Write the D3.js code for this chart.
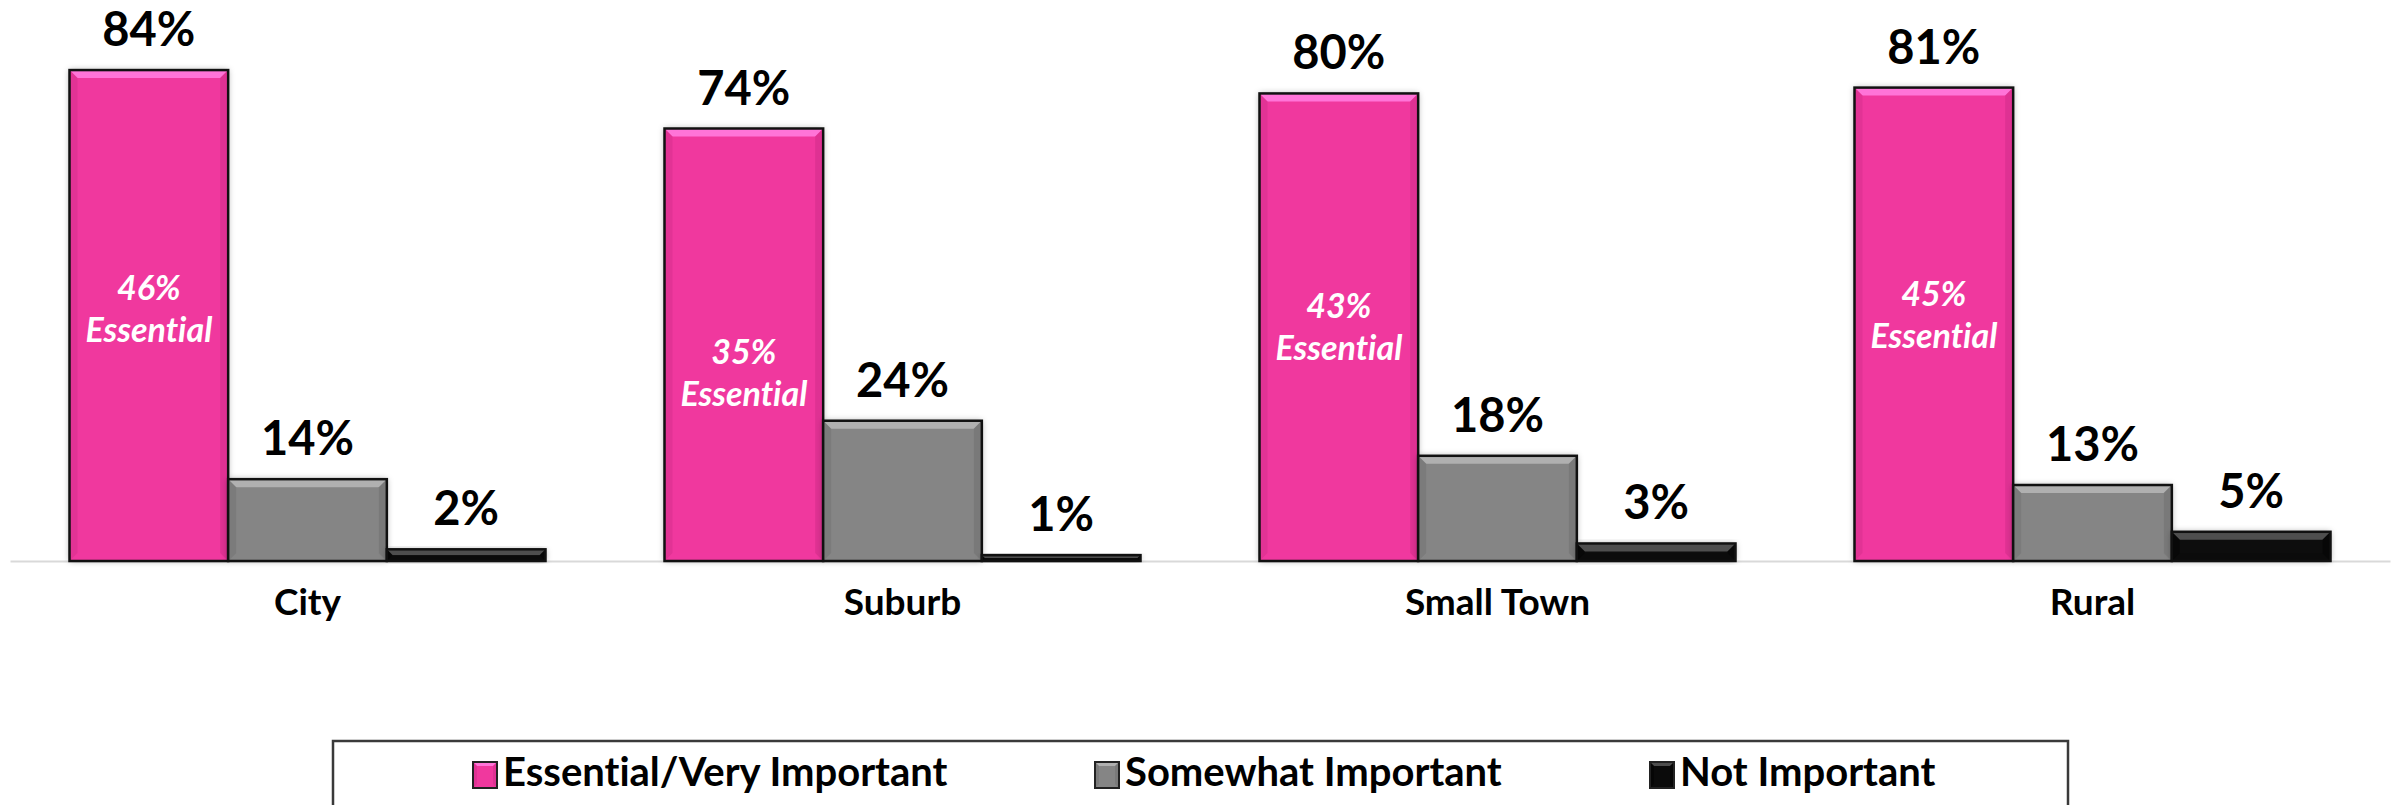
<!DOCTYPE html>
<html>
<head>
<meta charset="utf-8">
<script src="https://cdn.jsdelivr.net/npm/d3@7"></script>
<style>
  html, body { margin: 0; padding: 0; background: #fff; }
  svg { display: block; font-family: Lato, "Open Sans", sans-serif; font-variant-ligatures: none; }
  text { font-variant-ligatures: none; font-feature-settings: "liga" 0; }
</style>
</head>
<body>
<svg id="chart" width="2397" height="805"></svg>
<script>
// ---- data ----
const categories = ["City", "Suburb", "Small Town", "Rural"];
const seriesNames = ["Essential/Very Important", "Somewhat Important", "Not Important"];
const essentialVeryImportant = [84, 74, 80, 81];
const somewhatImportant = [14, 24, 18, 13];
const notImportant = [2, 1, 3, 5];
const essentialOnly = [46, 35, 43, 45];

// ---- styles ----
const colors = {
  "Essential/Very Important": { fill: "#F0389E", light: "#FF74D8", dark: "#C92A84" },
  "Somewhat Important": { fill: "#858585", light: "#B0B0B0", dark: "#6A6A6A" },
  "Not Important": { fill: "#0B0B0B", light: "#4E4E4E", dark: "#000000" }
};

const seriesValues = [essentialVeryImportant, somewhatImportant, notImportant];
const rows = categories.map((c, i) => ({
  category: c,
  values: seriesNames.map((s, j) => ({ series: s, value: seriesValues[j][i] })),
  essential: essentialOnly[i]
}));

const svg = d3.select("#chart");

const defs = svg.append("defs");
const f = defs.append("filter").attr("id", "shadow").attr("x", "-20%").attr("y", "-20%").attr("width", "140%").attr("height", "140%");
f.append("feDropShadow").attr("dx", 0).attr("dy", 0).attr("stdDeviation", 3).attr("flood-color", "#000").attr("flood-opacity", 0.35);

const x0 = d3.scaleBand().domain(categories).range([10, 2390]).paddingInner(0.2).paddingOuter(0.1);
const x1 = d3.scaleBand().domain(seriesNames).range([0, x0.bandwidth()]).padding(0);
const y = d3.scaleLinear().domain([0, 90]).range([561, 35]);

// axis
const axis = svg.append("g").attr("transform", `translate(0,${y(0)})`)
  .call(d3.axisBottom(x0).tickSize(0).tickSizeOuter(0));
axis.select(".domain").attr("stroke", "#D9D9D9").attr("stroke-width", 2);
axis.selectAll(".tick text")
  .attr("y", 54).attr("dy", 0)
  .attr("font-family", "Lato").attr("font-weight", 700).attr("font-size", 37).attr("fill", "#000");

// bars
const bevel = 8;
function drawBar(g, x, yTop, w, h, c) {
  const b = Math.min(bevel, h / 2, w / 2);
  g.append("rect").attr("x", x).attr("y", yTop).attr("width", w).attr("height", h)
    .attr("fill", c.fill).attr("filter", "url(#shadow)");
  g.append("polygon").attr("points", [[x, yTop], [x + w, yTop], [x + w - b, yTop + b], [x + b, yTop + b]].join(" "))
    .attr("fill", c.light);
  g.append("polygon").attr("points", [[x, yTop + h], [x + w, yTop + h], [x + w - b, yTop + h - b], [x + b, yTop + h - b]].join(" "))
    .attr("fill", c.fill).attr("opacity", 0.9);
  g.append("polygon").attr("points", [[x, yTop], [x + b, yTop + b], [x + b, yTop + h - b], [x, yTop + h]].join(" "))
    .attr("fill", c.dark).attr("opacity", 0.35);
  g.append("polygon").attr("points", [[x + w, yTop], [x + w - b, yTop + b], [x + w - b, yTop + h - b], [x + w, yTop + h]].join(" "))
    .attr("fill", c.dark).attr("opacity", 0.45);
  g.append("rect").attr("x", x).attr("y", yTop).attr("width", w).attr("height", h)
    .attr("fill", "none").attr("stroke", "#111").attr("stroke-width", 2.5);
}

const groups = svg.selectAll("g.grp").data(rows).join("g").attr("class", "grp")
  .attr("transform", d => `translate(${x0(d.category)},0)`);

groups.each(function (d) {
  const g = d3.select(this);
  d.values.forEach(v => {
    const bx = x1(v.series), w = x1.bandwidth();
    const yt = y(v.value), h = y(0) - y(v.value);
    drawBar(g.append("g"), bx, yt, w, h, colors[v.series]);
    g.append("text").attr("x", bx + w / 2).attr("y", yt - 24)
      .attr("text-anchor", "middle").attr("font-family", "Lato").attr("font-weight", 700)
      .attr("font-size", 47).attr("fill", "#000").text(v.value + "%");
  });
  const bx = x1(seriesNames[0]) + x1.bandwidth() / 2;
  const style = sel => sel.attr("text-anchor", "middle").attr("font-family", "Lato")
    .attr("font-weight", 700).attr("font-style", "italic").attr("font-size", 34).attr("fill", "#fff");
  g.append("text").call(style).attr("x", bx).attr("y", y(d.essential) + 8).text(d.essential + "%");
  g.append("text").call(style).attr("x", bx).attr("y", y(d.essential) + 50).text("Essential");
});

// legend
const legend = svg.append("g");
legend.append("rect").attr("x", 333).attr("y", 741).attr("width", 1735).attr("height", 120)
  .attr("fill", "#fff").attr("stroke", "#3A3A3A").attr("stroke-width", 2.5);
const legendX = d3.scaleOrdinal().domain(seriesNames).range([473, 1095, 1650]);
seriesNames.forEach(s => {
  const lx = legendX(s);
  const c = colors[s];
  const sw = 24, sh = 26, sy = 762;
  const b = 4;
  legend.append("rect").attr("x", lx).attr("y", sy).attr("width", sw).attr("height", sh).attr("fill", c.fill);
  legend.append("polygon").attr("points", [[lx, sy], [lx + sw, sy], [lx + sw - b, sy + b], [lx + b, sy + b]].join(" ")).attr("fill", c.light);
  legend.append("polygon").attr("points", [[lx, sy], [lx + b, sy + b], [lx + b, sy + sh - b], [lx, sy + sh]].join(" ")).attr("fill", c.dark).attr("opacity", 0.4);
  legend.append("polygon").attr("points", [[lx + sw, sy], [lx + sw - b, sy + b], [lx + sw - b, sy + sh - b], [lx + sw, sy + sh]].join(" ")).attr("fill", c.dark).attr("opacity", 0.4);
  legend.append("rect").attr("x", lx).attr("y", sy).attr("width", sw).attr("height", sh)
    .attr("fill", "none").attr("stroke", "#222").attr("stroke-width", 2);
  legend.append("text").attr("x", lx + sw + 6).attr("y", 786)
    .attr("font-family", "Lato").attr("font-weight", 700).attr("font-size", 40).attr("fill", "#000").text(s);
});
</script>
</body>
</html>
